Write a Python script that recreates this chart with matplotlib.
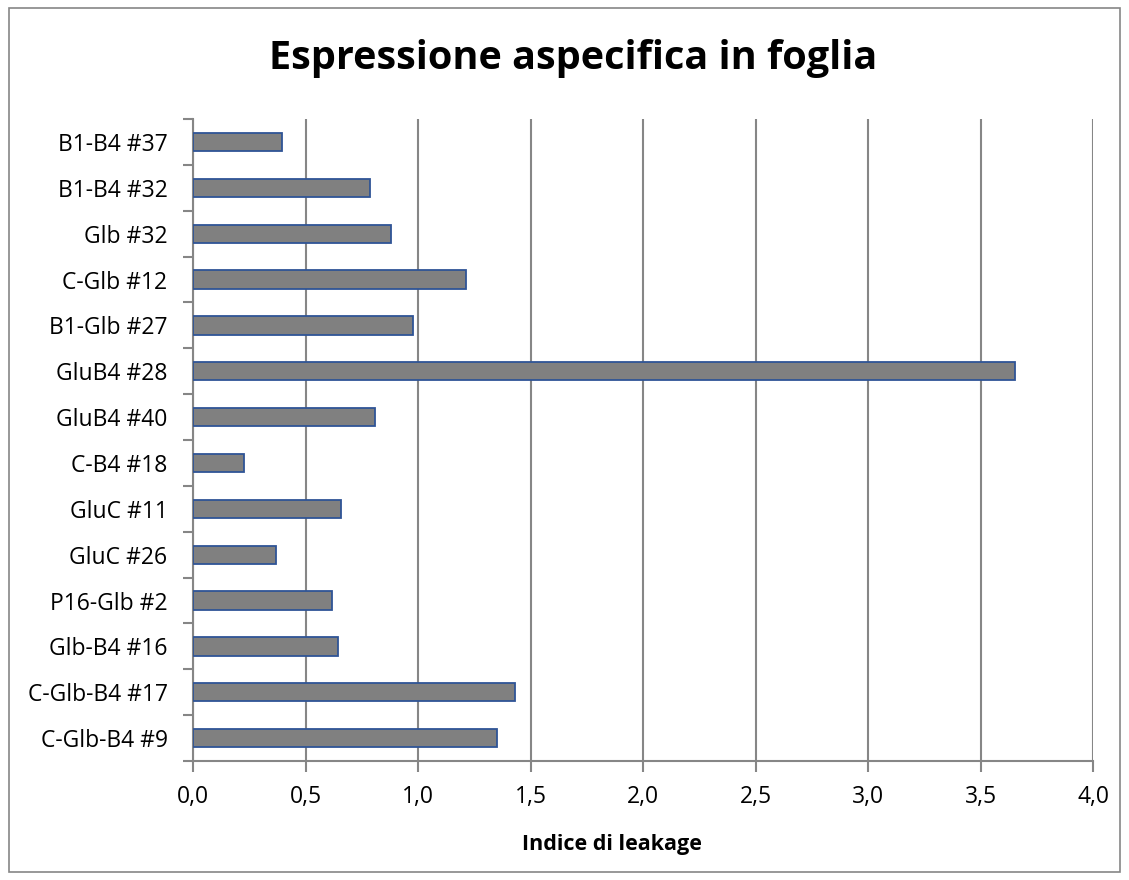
import numpy as np
import matplotlib.pyplot as plt
from matplotlib.patches import Rectangle

# categorie dal basso verso l'alto, come nel foglio di calcolo
campioni = ['C-Glb-B4 #9', 'C-Glb-B4 #17', 'Glb-B4 #16', 'P16-Glb #2',
            'GluC #26', 'GluC #11', 'C-B4 #18', 'GluB4 #40', 'GluB4 #28',
            'B1-Glb #27', 'C-Glb #12', 'Glb #32', 'B1-B4 #32', 'B1-B4 #37']
leakage = [1.35, 1.43, 0.645, 0.616, 0.367, 0.657, 0.226, 0.81, 3.652,
           0.978, 1.212, 0.878, 0.785, 0.395]
xticks = [0.0, 0.5, 1.0, 1.5, 2.0, 2.5, 3.0, 3.5, 4.0]

plt.rcParams['font.family'] = ['Open Sans', 'DejaVu Sans']
grigio = '#868686'

fig = plt.figure(figsize=(11.29, 8.8), dpi=100)
ax = fig.add_axes([0.1712, 0.1352, 0.797, 0.7295])

y = np.arange(len(campioni))
ax.barh(y, leakage, height=0.4, color='#808080', edgecolor='#2F5496',
        linewidth=1.3, zorder=3)

ax.set_xlim(0, 4.0)
ax.set_ylim(-0.5, len(campioni) - 0.5)
ax.set_xticks(xticks)
ax.set_xticklabels([f'{v:.1f}'.replace('.', ',') for v in xticks], fontsize=16.5)
ax.set_yticks(y)
ax.set_yticklabels(campioni, fontsize=16.5)
ax.set_yticks(np.arange(len(campioni) + 1) - 0.5, minor=True)
ax.tick_params(axis='y', which='major', length=0, pad=18.5)
ax.tick_params(axis='y', which='minor', length=7, width=1.5, color=grigio)
ax.tick_params(axis='x', length=8, width=1.5, color=grigio, pad=9)

ax.grid(axis='x', color=grigio, linewidth=1.5, zorder=0)
for lato in ['top', 'right']:
    ax.spines[lato].set_visible(False)
for lato in ['left', 'bottom']:
    ax.spines[lato].set_color(grigio)
    ax.spines[lato].set_linewidth(1.5)

# titolo dell'asse x, un po' spostato a sinistra rispetto al centro del grafico
fig.text(612 / 1129, 0.040, 'Indice di leakage', ha='center', va='center',
         fontsize=15.5, fontweight='bold')
fig.text(0.508, 0.933, 'Espressione aspecifica in foglia', ha='center',
         va='center', fontsize=28.5, fontweight='bold')

# cornice esterna del grafico
fig.patches.append(Rectangle((9 / 1129, 8 / 880), 1111 / 1129, 864 / 880,
                             transform=fig.transFigure, fill=False,
                             edgecolor=grigio, linewidth=1.2))

fig.savefig('out.png', dpi=100)
